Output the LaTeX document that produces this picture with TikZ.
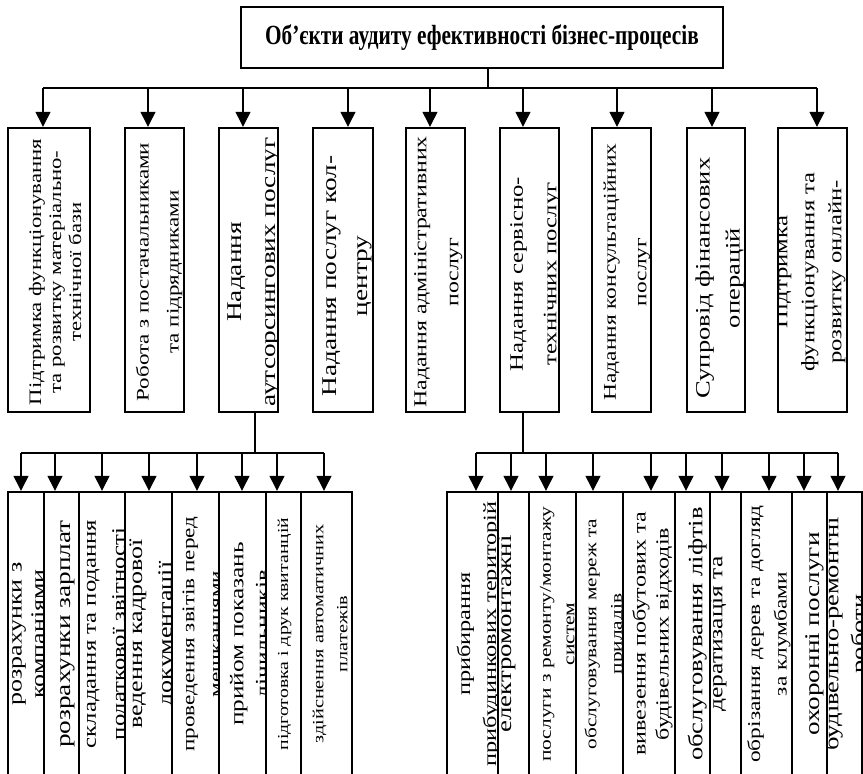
\documentclass[tikz,border=0pt]{standalone}
\usepackage{graphicx}
\usepackage{fontspec}
\setmainfont{Liberation Serif}
\usetikzlibrary{arrows.meta}
\tikzset{
  box/.style={draw, line width=2.4pt, fill=white, inner sep=0pt},
  conn/.style={line width=1.3pt},
  arr/.style={conn, -{Triangle[length=15pt,width=15pt]}},
}
% #1 name, #2 x1, #3 x2, #4 y1, #5 y2, #6 shift of text, #7 text
\newcommand\bx[7]{%
  \node[box, minimum width={(#3-#2)*1pt}, minimum height={(#5-#4)*1pt},
    path picture={\node[rotate=90,inner sep=0pt] (#1txt) at ([#6]path picture bounding box.center) {#7};}]
    (#1) at ({(#2+#3)/2},{-(#4+#5)/2}) {};}
\newcommand\tx[3]{\fontsize{#1}{#2}\selectfont\scalebox{1.3}[1]{\begin{tabular}{@{}c@{}}#3\end{tabular}}}
\begin{document}
\begin{tikzpicture}[x=1pt,y=1pt]
\useasboundingbox (0,0) rectangle (863,-774);
\clip (0,0) rectangle (863,-774);
% title
\node[box, minimum width=482pt, minimum height=61pt, font=\bfseries\fontsize{21.3}{25}\selectfont]
  (title) at (482,-37.5) {\scalebox{1}[1.3]{Об’єкти аудиту ефективності бізнес-процесів}};
% top level
\bx{t1}{8}{90}{128}{412}{xshift=8pt,yshift=-2pt}{\tx{17.5}{20}{Підтримка функціонування\\та розвитку матеріально-\\технічної бази}}
\bx{t2}{125}{184}{128}{412}{xshift=3pt,yshift=-2pt}{\tx{17.7}{30}{Робота з постачальниками\\та підрядниками}}
\bx{t3}{219}{278}{128}{412}{xshift=3.5pt,yshift=-2pt}{\tx{21}{34}{Надання\\аутсорсингових послуг}}
\bx{t4}{313}{373}{128}{412}{xshift=2.5pt,yshift=-6pt}{\tx{21}{31}{Надання послуг кол-\\центру}}
\bx{t5}{406}{465}{128}{412}{xshift=0.5pt,yshift=-2pt}{\tx{18.3}{32}{Надання адміністративних\\послуг}}
\bx{t6}{500}{559}{128}{412}{xshift=3.5pt,yshift=-4pt}{\tx{19}{33.5}{Надання сервісно-\\технічних послуг}}
\bx{t7}{592}{651}{128}{412}{xshift=3.5pt,yshift=-2pt}{\tx{18}{30.5}{Надання консультаційних\\послуг}}
\bx{t8}{687}{745}{128}{412}{xshift=2.5pt,yshift=-8pt}{\tx{20.4}{30}{Супровід фінансових\\операцій}}
\bx{t9}{778}{847}{128}{412}{xshift=-3.5pt,yshift=-2pt}{\tx{19}{27}{Підтримка\\функціонування та\\розвитку онлайн-}}
% bottom left group
\bx{l1}{8}{44}{492}{776}{xshift=2.5pt}{\tx{20}{23}{розрахунки з\\компаніями}}
\bx{l2}{44}{79}{492}{776}{xshift=4.5pt}{\tx{21}{24}{розрахунки зарплат}}
\bx{l3}{79}{125}{492}{776}{xshift=2.5pt}{\tx{19}{29}{складання та подання\\податкової звітності}}
\bx{l4}{125}{172}{492}{776}{xshift=2.5pt}{\tx{20}{29.5}{ведення кадрової\\документації}}
\bx{l5}{172}{219}{492}{776}{xshift=7pt}{\tx{17.8}{27}{проведення звітів перед\\мешканцями}}
\bx{l6}{219}{266}{492}{776}{xshift=8.5pt}{\tx{19.5}{25.5}{прийом показань\\лічильників}}
\bx{l7}{266}{301}{492}{776}{xshift=1pt}{\tx{15.2}{18}{підготовка і друк квитанцій}}
\bx{l8}{301}{352}{492}{776}{xshift=4pt}{\tx{15.6}{24}{здійснення автоматичних\\платежів}}
% bottom right group
\bx{r1}{447}{498}{492}{776}{xshift=5.5pt}{\tx{18.7}{26}{прибирання\\прибудинкових територій}}
\bx{r2}{498}{529}{492}{776}{xshift=-6.5pt}{\tx{20.6}{24}{електромонтажні}}
\bx{r3}{529}{576}{492}{776}{xshift=5.5pt}{\tx{16.5}{23.5}{послуги з ремонту/монтажу\\систем}}
\bx{r4}{576}{623}{492}{776}{xshift=4.5pt}{\tx{16.4}{25.5}{обслуговування мереж та\\приладів}}
\bx{r5}{623}{675}{492}{776}{xshift=3.5pt}{\tx{18.5}{23}{вивезення побутових та\\будівельних відходів}}
\bx{r6}{675}{710}{492}{776}{xshift=5pt}{\tx{20.4}{24}{обслуговування ліфтів}}
\bx{r7}{710}{741}{492}{776}{xshift=-8pt}{\tx{19.6}{24}{дератизація та}}
\bx{r8}{741}{792}{492}{776}{xshift=1.5pt}{\tx{18}{26.5}{обрізання дерев та догляд\\за клумбами}}
\bx{r9}{792}{827}{492}{776}{xshift=5.5pt}{\tx{20.9}{24}{охоронні послуги}}
\bx{r10}{827}{862}{492}{776}{xshift=2pt}{\tx{20.4}{27}{будівельно-ремонтні\\роботи}}
% connectors: top
\coordinate (tb) at (488,-88);
\draw[conn] (title.south -| tb) -- (tb);
\foreach \n/\x in {1/43,2/148,3/243,4/348,5/430,6/523,7/617,8/712,9/817}
  \coordinate (a\n) at (\x,-88);
\draw[conn] (a1) -- (a9);
\foreach \n in {1,...,9}
  \draw[arr] (a\n) -- (a\n |- t\n.north);
% connectors: left group
\coordinate (lb) at (255,-453);
\draw[conn] (lb |- t3.south) -- (lb);
\foreach \n/\x in {1/21,2/55,3/102,4/149,5/197,6/242,7/277,8/324}
  \coordinate (c\n) at (\x,-453);
\draw[conn] (c1) -- (c8);
\foreach \n in {1,...,8}
  \draw[arr] (c\n) -- (c\n |- l\n.north);
% connectors: right group
\coordinate (rb) at (523,-453);
\draw[conn] (rb |- t6.south) -- (rb);
\foreach \n/\x in {1/476,2/511,3/546,4/593,5/651,6/686,7/722,8/769,9/804,10/838}
  \coordinate (d\n) at (\x,-453);
\draw[conn] (d1) -- (d10);
\foreach \n in {1,...,10}
  \draw[arr] (d\n) -- (d\n |- r\n.north);
\end{tikzpicture}
\end{document}
